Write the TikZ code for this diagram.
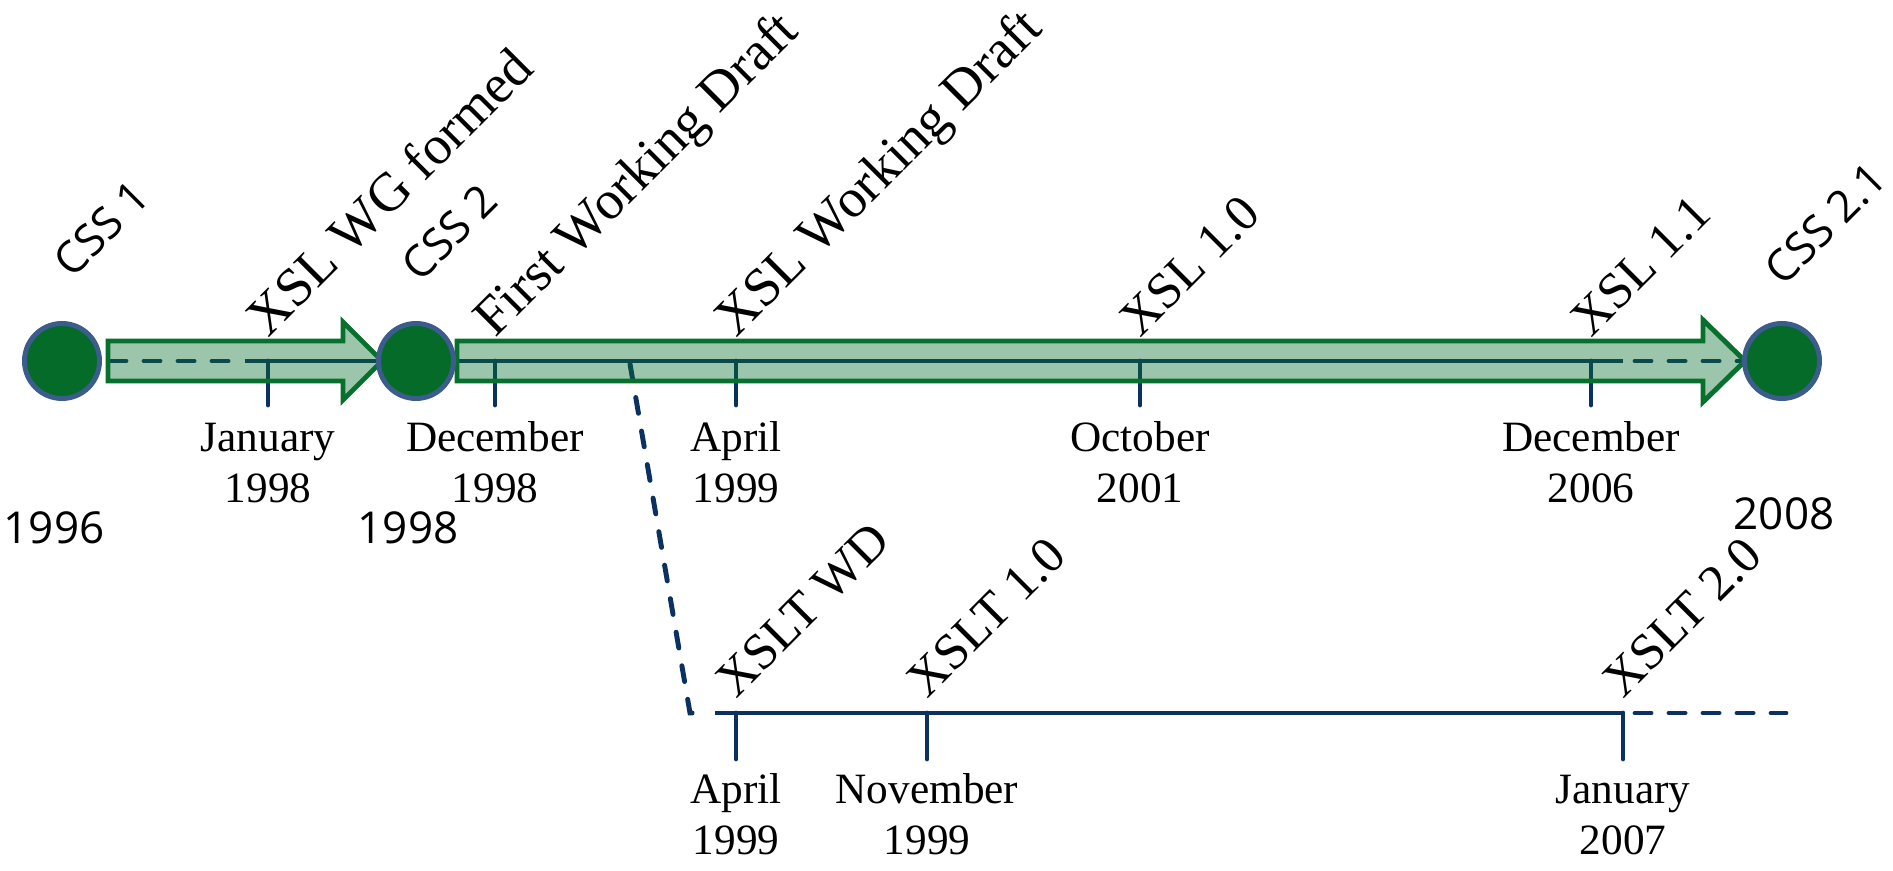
\documentclass[tikz,border=0pt]{standalone}
\usepackage{fontspec}
\setmainfont{Liberation Serif}
\setsansfont{Open Sans}
\usetikzlibrary{positioning}
\definecolor{navy}{RGB}{11,49,96}
\definecolor{leaf}{RGB}{8,112,45}
\definecolor{dot}{RGB}{5,107,41}
\definecolor{rim}{RGB}{60,92,140}
\tikzstyle{timeline}=[draw=navy, line width=1.4pt]
\tikzstyle{future}=[timeline, dash pattern=on 0.16cm off 0.18cm, line cap=round]
\tikzstyle{tickmark}=[timeline, line cap=round]
\tikzstyle{span}=[draw=leaf, fill=leaf, fill opacity=0.4, line width=1.4pt]
\tikzstyle{release}=[circle, draw=rim, fill=dot, line width=1.4pt, minimum size=0.75cm, inner sep=0pt]
\tikzstyle{event}=[anchor=base west, rotate=45, inner sep=0pt, font=\fontsize{15.5}{18}\selectfont]
\tikzstyle{milestone}=[event, font=\fontsize{14.5}{17}\selectfont]
\tikzstyle{css label}=[anchor=base west, rotate=45, inner sep=0pt, font=\sffamily\fontsize{12.5}{15}\selectfont]
\tikzstyle{year}=[inner sep=0pt, font=\sffamily\fontsize{12.5}{15}\selectfont]
\tikzstyle{date}=[align=center, anchor=base, inner sep=0pt, font=\fontsize{12.3}{14.5}\selectfont]

\begin{document}
\begin{tikzpicture}[x=0.01cm, y=-0.01cm]
  \useasboundingbox (0,0) rectangle (1893,871);
  % points on the XSL line
  \coordinate (wg start) at (110,361);
  \coordinate (wg dash) at (245,361);
  \coordinate (wg end) at (382,361);
  \coordinate (fo start) at (457,361);
  \coordinate (fo dash) at (1623,361);
  \coordinate (fo dash start) at (1635,361);
  \coordinate (fo end) at (1743,361);
  \coordinate (jan98) at (268,361);
  \coordinate (dec98) at (495,361);
  \coordinate (apr99) at (736,361);
  \coordinate (oct01) at (1140,361);
  \coordinate (dec06) at (1591,361);
  % points on the XSLT line
  \coordinate (branch) at (630,364);
  \coordinate (bend) at (690,713);
  \coordinate (bend end) at (702,713);
  \coordinate (xslt start) at (715,713);
  \coordinate (xapr99) at (736,713);
  \coordinate (nov99) at (927,713);
  \coordinate (jan07) at (1623,713);
  \coordinate (xslt dash) at (1635,713);
  \coordinate (xslt end) at (1786,713);

  \draw[future] (wg start) -- (wg dash);
  \draw[timeline] (wg dash) -- (wg end);
  \draw[timeline] (fo start) -- (fo dash);
  \draw[future] (fo dash start) -- (fo end);
  \foreach \t in {jan98, dec98, apr99, oct01, dec06}
    \draw[tickmark] (\t) -- ++(0,44);

  \draw[future] (branch) -- (bend) -- (bend end);
  \draw[timeline] (xslt start) -- (jan07);
  \draw[future] (xslt dash) -- (xslt end);
  \foreach \t in {xapr99, nov99, jan07}
    \draw[tickmark] (\t) -- ++(0,46);

  % spans between the CSS releases
  \draw[span] (108,341) -- (343,341) -- (343,322) -- (382,361)
    -- (343,400) -- (343,381) -- (108,381) -- cycle;
  \draw[span] (457,341) -- (1703,341) -- (1703,320) -- (1745,361)
    -- (1703,402) -- (1703,381) -- (457,381) -- cycle;

  \node[release] (css1) at (62,361) {};
  \node[release] (css2) at (416,361) {};
  \node[release] (css21) at (1782,361) {};

  \node[css label] (css1 label) at (72,280) {CSS 1};
  \node[css label] (css2 label) at (420,284) {CSS 2};
  \node[css label] (css21 label) at (1783,288) {CSS 2.1};
  \node[year] (y1996) at (54,528) {1996};
  \node[year] (y1998) at (408,528) {1998};
  \node[year] (y2008) at (1784,514) {2008};

  \node[event] (wg label) at (268,339) {XSL WG formed};
  \node[event] (fwd label) at (495,339) {First Working Draft};
  \node[event] (wd label) at (736,339) {XSL Working Draft};
  \node[milestone] (xsl10 label) at (1140,339) {XSL 1.0};
  \node[milestone] (xsl11 label) at (1591,339) {XSL 1.1};
  \node[milestone] (xsltwd label) at (736,700) {XSLT WD};
  \node[milestone] (xslt10 label) at (927,700) {XSLT 1.0};
  \node[milestone] (xslt20 label) at (1623,700) {XSLT 2.0};

  % the base of a date is the baseline of its year
  \node[date] (jan98 date) at (268,503) {January\\1998};
  \node[date] (dec98 date) at (495,503) {December\\1998};
  \node[date] (apr99 date) at (736,503) {April\\1999};
  \node[date] (oct01 date) at (1140,503) {October\\2001};
  \node[date] (dec06 date) at (1591,503) {December\\2006};
  \node[date] (xapr99 date) at (736,855) {April\\1999};
  \node[date] (nov99 date) at (927,855) {November\\1999};
  \node[date] (jan07 date) at (1623,855) {January\\2007};
\end{tikzpicture}
\end{document}
